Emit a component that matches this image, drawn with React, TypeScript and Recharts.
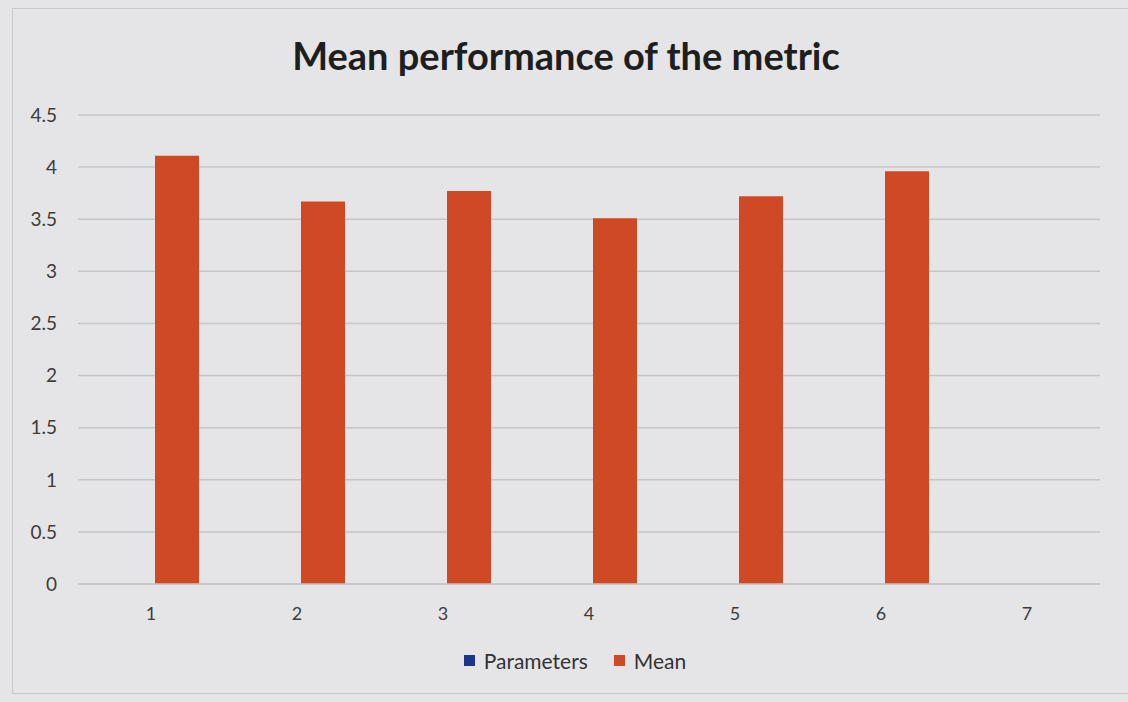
import { BarChart, Bar, XAxis, YAxis, CartesianGrid, Legend } from "recharts";

const categories = ["1", "2", "3", "4", "5", "6", "7"];
const parameters: (number | null)[] = [null, null, null, null, null, null, null];
const means: (number | null)[] = [4.11, 3.67, 3.77, 3.51, 3.72, 3.96, null];
const yTicks = [0, 0.5, 1, 1.5, 2, 2.5, 3, 3.5, 4, 4.5];
const seriesNames = ["Parameters", "Mean"];
const seriesColors = ["#1c3588", "#cf4a24"];

const data = categories.map((c, i) => ({
  cat: c,
  Parameters: parameters[i],
  Mean: means[i],
}));

const font = "Lato, 'Open Sans', sans-serif";

function LegendBox() {
  return (
    <div
      style={{
        display: "flex",
        justifyContent: "center",
        alignItems: "center",
        fontSize: 21,
        fontFamily: font,
        color: "#333333",
        paddingLeft: 68,
      }}
    >
      {seriesNames.map((n, i) => (
        <div key={n} style={{ display: "flex", alignItems: "center", marginRight: 26 }}>
          <span
            style={{
              display: "inline-block",
              width: 11,
              height: 11,
              background: seriesColors[i],
              marginRight: 9,
            }}
          />
          <span>{n}</span>
        </div>
      ))}
    </div>
  );
}

export default function App() {
  return (
    <div
      style={{
        position: "absolute",
        left: 0,
        top: 0,
        width: 1128,
        height: 702,
        background: "#e5e5e7",
        fontFamily: font,
        overflow: "hidden",
      }}
    >
      <div
        style={{
          position: "absolute",
          left: 12,
          top: 8,
          width: 1200,
          height: 684,
          border: "1px solid #c9c9cc",
        }}
      />
      <div
        style={{
          position: "absolute",
          left: 0,
          top: 32,
          width: 1132,
          textAlign: "center",
          fontSize: 38,
          fontWeight: 700,
          color: "#1e1e1e",
        }}
      >
        Mean performance of the metric
      </div>
      <div style={{ position: "absolute", left: 0, top: 0 }}>
        <BarChart
          width={1128}
          height={702}
          data={data}
          margin={{ top: 115, right: 28, left: 8, bottom: 29 }}
          barSize={44}
          barGap={8}
        >
          <CartesianGrid vertical={false} stroke="#c5c6c9" strokeWidth={1.5} />
          <XAxis
            dataKey="cat"
            tickLine={false}
            axisLine={{ stroke: "#c5c6c9", strokeWidth: 1.5 }}
            tick={{ fontSize: 18, fill: "#3c3c3c", fontFamily: font }}
            tickMargin={17}
            height={64}
          />
          <YAxis
            type="number"
            domain={[0, 4.5]}
            ticks={yTicks}
            width={70}
            tickLine={false}
            axisLine={false}
            tickSize={0}
            tickMargin={21}
            tick={{ fontSize: 19, fill: "#3c3c3c", fontFamily: font }}
          />
          <Legend verticalAlign="bottom" align="center" content={() => <LegendBox />} />
          <Bar dataKey="Parameters" name="Parameters" fill={seriesColors[0]} isAnimationActive={false} />
          <Bar dataKey="Mean" name="Mean" fill={seriesColors[1]} isAnimationActive={false} />
        </BarChart>
      </div>
    </div>
  );
}
